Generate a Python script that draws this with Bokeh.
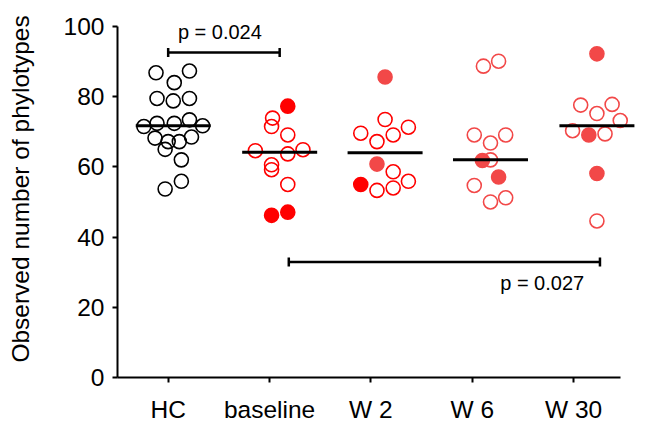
from bokeh.plotting import figure
from bokeh.models import FixedTicker, ColumnDataSource
from bokeh.core.properties import value
from bokeh.embed import file_html
from bokeh.resources import INLINE
import numpy as np

# ---- data -------------------------------------------------------------
groups = ["HC", "baseline", "W 2", "W 6", "W 30"]

hc_vals = [86.8, 87.3, 84.0, 79.5, 78.8, 79.5, 71.5, 72.4, 72.4, 73.4,
           71.7, 68.2, 67.2, 65.0, 67.2, 68.5, 62.0, 55.9, 53.7]
hc_off = [-0.12, 0.21, 0.06, -0.11, 0.05, 0.21, -0.24, -0.11, 0.06, 0.21,
          0.34, -0.13, 0.0, -0.03, 0.11, 0.23, 0.13, 0.13, -0.03]
hc_filled = [False] * 19

base_vals = [77.3, 73.9, 71.5, 69.1, 64.6, 63.7, 64.9, 60.6, 59.2, 55.0, 46.2, 47.1]
base_off = [0.18, 0.03, 0.02, 0.18, -0.14, 0.18, 0.33, 0.02, 0.02, 0.18, 0.02, 0.18]
base_filled = [True, False, False, False, False, False, False, False, False, False, True, True]

w2_vals = [85.6, 73.5, 69.6, 71.3, 69.1, 67.2, 60.8, 58.6, 55.9, 55.0, 53.3, 54.0]
w2_off = [0.14, 0.14, -0.10, 0.37, 0.22, 0.06, 0.06, 0.22, 0.37, -0.10, 0.06, 0.22]
w2_filled = [True, False, False, False, False, False, True, False, False, True, False, False]

w6_vals = [88.7, 90.1, 69.1, 69.1, 66.8, 61.8, 62.0, 57.1, 54.7, 50.0, 51.2]
w6_off = [0.11, 0.26, 0.02, 0.33, 0.18, 0.10, 0.18, 0.26, 0.02, 0.18, 0.33]
w6_filled = [False, False, False, False, False, True, False, True, False, False, False]

w30_vals = [92.2, 77.6, 77.8, 75.2, 73.2, 70.3, 69.1, 69.4, 58.1, 44.6]
w30_off = [0.23, 0.07, 0.38, 0.23, 0.46, -0.01, 0.15, 0.31, 0.23, 0.23]
w30_filled = [True, False, False, False, False, False, True, False, True, False]

# horizontal centre of each summary bar (offset from the category)
median_off = [0.05, 0.10, 0.14, 0.18, 0.23]

comparisons = [("baseline vs HC", "p = 0.024"), ("baseline vs W 30", "p = 0.027")]

# ---- styles -----------------------------------------------------------
RED = "#ff0000"
LIGHT = "#f24848"
w2_colors = [LIGHT, RED, RED, RED, RED, RED, LIGHT, RED, RED, RED, RED, RED]
group_colors = [["black"] * 19, [RED] * 12, w2_colors, [LIGHT] * 11, [LIGHT] * 10]
FONT = "Liberation Sans"

all_vals = [hc_vals, base_vals, w2_vals, w6_vals, w30_vals]
all_off = [hc_off, base_off, w2_off, w6_off, w30_off]
all_filled = [hc_filled, base_filled, w2_filled, w6_filled, w30_filled]

# the frame runs to the top edge so the upper p-value is not clipped;
# the y axis line itself stops at 100
p = figure(width=645, height=425, output_backend="svg", toolbar_location=None,
           x_range=(0.5, 5.66), y_range=(0, 107.4),
           min_border_left=117, min_border_right=5, min_border_top=0,
           min_border_bottom=46)
p.outline_line_color = None
p.grid.visible = False
p.background_fill_color = "white"
p.border_fill_color = "white"

# dots
xs, ys, fills, lines = [], [], [], []
for i, (vals, offs, filled, cols) in enumerate(zip(all_vals, all_off, all_filled, group_colors)):
    for v, o, f, c in zip(vals, offs, filled, cols):
        xs.append(i + 1 + o)
        ys.append(v)
        lines.append(c)
        fills.append(c if f else None)
src = ColumnDataSource(dict(x=xs, y=ys, fill=fills, line=lines))
p.scatter("x", "y", source=src, size=14, fill_color="fill", line_color="line",
          line_width=1.6)

# median bars
meds = [float(np.median(v)) for v in all_vals]
mx = [i + 1 + o for i, o in enumerate(median_off)]
p.segment(x0=[x - 0.37 for x in mx], x1=[x + 0.37 for x in mx], y0=meds, y1=meds,
          line_color="black", line_width=3)

# significance brackets
br = [(1.0, 2.1, 92.6, 1.51, 98.4), (2.19, 5.26, 32.9, 4.69, 27.0)]
for (x0, x1, yb, tx, ty), (_, label) in zip(br, comparisons):
    p.segment(x0=[x0], x1=[x1], y0=[yb], y1=[yb], line_color="black", line_width=2.5)
    p.segment(x0=[x0, x1], x1=[x0, x1], y0=[yb - 1.3, yb - 1.3], y1=[yb + 1.3, yb + 1.3],
              line_color="black", line_width=2.5)
    p.text(x=[tx], y=[ty], text=[label], text_align="center", text_baseline="alphabetic",
           text_font=value(FONT), text_font_size="20px", text_color="black")

# axes
p.yaxis.ticker = FixedTicker(ticks=[0, 20, 40, 60, 80, 100])
p.yaxis.bounds = (0, 100)
p.xaxis.ticker = FixedTicker(ticks=[1, 2, 3, 4, 5])
p.xaxis.major_label_overrides = {i + 1: g for i, g in enumerate(groups)}
p.xaxis.bounds = (0.5, 5.46)
p.yaxis.axis_label = "Observed number of phylotypes"
for ax in (p.xaxis, p.yaxis):
    ax.axis_line_width = 2
    ax.axis_line_color = "black"
    ax.major_tick_line_width = 2
    ax.major_tick_out = 5
    ax.major_tick_in = 0
    ax.minor_tick_line_color = None
    ax.major_label_text_font = FONT
    ax.major_label_text_font_size = "24.5px"
    ax.major_label_text_color = "black"
    ax.axis_label_text_font = FONT
    ax.axis_label_text_font_size = "24.5px"
    ax.axis_label_text_font_style = "normal"
    ax.axis_label_text_color = "black"
p.yaxis.major_label_standoff = 8
p.xaxis.major_label_standoff = 13
p.yaxis.axis_label_standoff = 27

open("out.html", "w").write(file_html(p, INLINE))
